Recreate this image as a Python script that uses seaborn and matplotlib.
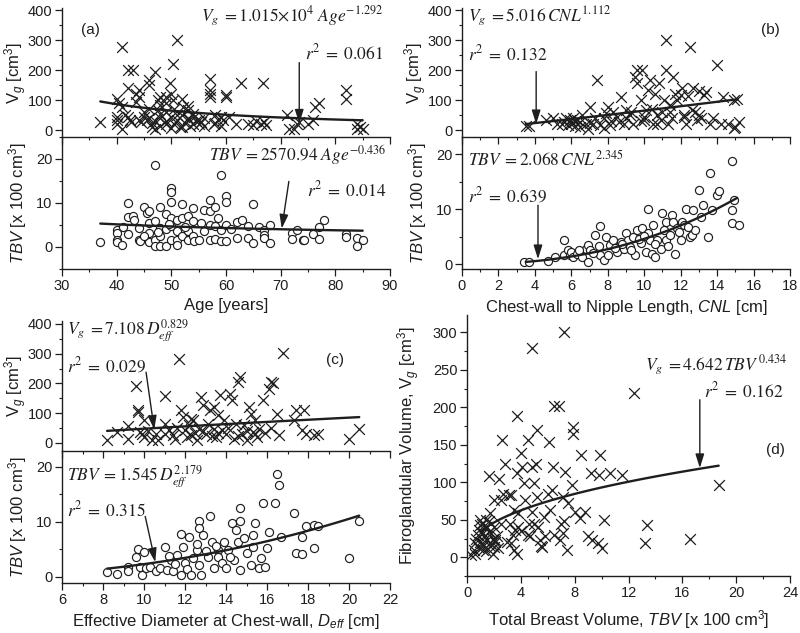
import numpy as np
import matplotlib
matplotlib.use('Agg')
import matplotlib.pyplot as plt
from matplotlib.ticker import MultipleLocator
import seaborn as sns

# --- data ---
# (a) Age vs Vg [cm3]
age_vg = [(37, 28), (40, 105), (40, 44), (40, 33), (40, 22), (40.5, 90), (41, 278), (41, 5), (41, 78),
          (41.5, 50), (42, 139), (42, 200), (43, 200), (42, 44), (42.7, 28), (42.5, 35), (43.5, 120),
          (43.5, 95), (44, 33), (44, 111), (44, 133), (44.5, 28), (45, 45), (45.5, 33), (45, 60),
          (46, 167), (46, 150), (46.5, 11), (47, 5), (46.5, 25), (47, 194), (47.5, 67), (47.5, 100),
          (48, 85), (48, 40), (48, 15), (49, 111), (49, 60), (49, 30), (49.7, 156), (50, 44), (50.3, 100),
          (50.3, 222), (51, 300), (50.5, 20), (50.5, 70), (51, 35), (51.5, 10), (52, 105), (52.2, 78),
          (52, 50), (52.5, 25), (53, 67), (53.3, 33), (53.5, 15), (54.2, 44), (54, 55), (54.5, 30),
          (55, 22), (55.5, 28), (56, 40), (57, 172), (57, 133), (57, 111), (57, 120), (57.8, 22),
          (58, 50), (58.5, 35), (59.4, 33), (59, 15), (60, 111), (60, 117), (60.5, 45), (61.8, 22),
          (62.8, 156), (64, 22), (65, 17), (65.5, 30), (66.4, 22), (66.7, 156), (67, 28), (67.3, 17),
          (71.2, 50), (71.5, 5), (72.4, 5), (73, 22), (73.3, 28), (75, 22), (76, 33), (76.2, 78),
          (77, 89), (82, 133), (82, 105), (84, 22), (84, 5), (84.5, 12), (85, 5),
          (46, 40), (47, 30), (48, 55), (49, 20), (50, 8), (51, 50), (52, 12), (53, 40), (54, 20),
          (56, 15), (58, 25), (59, 45), (46, 70), (48, 110), (49, 90), (50, 120), (53, 80), (55, 35)]

# (a) Age vs TBV [x100 cm3]
age_tbv = [(37, 1.1), (40, 3.9), (40, 3.2), (40, 1.7), (40, 1.1), (41, 0.5), (41.1, 4.5), (42, 10),
           (42, 6.8), (42, 3), (43, 7.1), (43.1, 6.2), (44, 4.3), (44, 1.7), (44.2, 1.3), (45, 9.1),
           (45.5, 7.7), (46, 8.1), (46, 5.5), (46, 3.2), (46, 1.2), (47, 18.7), (47, 5.8), (47, 1.7),
           (47, 0.3), (48, 9.1), (48, 4.3), (48, 2.4), (48, 0.3), (49, 7.6), (49, 4.1), (49, 0.3),
           (50, 13.4), (50, 12.6), (50, 10.2), (50, 6.6), (50, 4.7), (50, 1.7), (51, 6.2), (51, 3.6),
           (51, 1.7), (51, 0.5), (52, 9.8), (52, 6.6), (52, 2.4), (53, 7.1), (53, 3.6), (53, 1.7),
           (54, 8.9), (54, 5.8), (54, 2.4), (54.1, 1.3), (55, 1.7), (56, 8.3), (56, 3.6), (57, 10.6),
           (57, 8.1), (57, 5.1), (57, 1.7), (58, 9.2), (58, 4.7), (58, 1.9), (59, 16.4), (59, 3.9),
           (59, 1.3), (60, 11.5), (60, 10.2), (60, 5.1), (60, 1.3), (62, 5.6), (62, 2), (63, 6.2),
           (64, 4.7), (64, 2), (65, 9.8), (65, 0.9), (66, 4.5), (67, 3.9), (67, 2.8), (67, 2),
           (68, 5.1), (68, 0.9), (72, 3.2), (72, 1.9), (73, 3.9), (74, 1.5), (74.2, 1.7), (76, 3),
           (77, 1.8), (77, 4.5), (78, 6.2), (82, 3), (82, 2.3), (84, 2), (84, 0.3), (85, 1.5),
           (45, 2.5), (47.5, 3.5), (49.5, 5.3), (52.5, 4.5), (55.5, 5.5), (58.5, 6.5), (61, 4.2)]

# (b) CNL vs Vg
cnl_vg = [(3.5, 13), (3.7, 13), (4.6, 33), (5, 39), (5.2, 22), (5.6, 28), (5.7, 39), (5.8, 17),
          (5.9, 33), (6, 22), (6.1, 39), (6.2, 15), (6.3, 33), (6.5, 28), (6.6, 50), (6.8, 22),
          (6.9, 5), (7, 78), (7.4, 167), (7.2, 22), (7.6, 17), (7.8, 39), (7.9, 56), (8, 78),
          (8.1, 17), (8.3, 61), (8.6, 28), (8.7, 111), (8.9, 22), (9, 67), (9.2, 50), (9.4, 22),
          (9.5, 178), (9.6, 156), (9.6, 200), (9.8, 100), (9.9, 200), (10, 33), (10.1, 67),
          (10.2, 133), (10.3, 167), (10.5, 22), (10.6, 122), (10.7, 50), (10.8, 156), (10.9, 33),
          (11.1, 100), (11.2, 300), (11.2, 200), (11.3, 22), (11.4, 61), (11.6, 178), (11.7, 122),
          (11.8, 100), (12, 117), (12.1, 139), (12.2, 44), (12.3, 22), (12.5, 278), (12.6, 67),
          (12.7, 139), (12.9, 33), (13, 50), (13.3, 117), (13.4, 128), (13.6, 22), (14, 217),
          (14.2, 22), (14.9, 100), (15, 11), (15.1, 105), (15.2, 28), (14.9, 6),
          (5.5, 20), (6.2, 30), (6.5, 12), (7, 25), (7.3, 40), (7.8, 8), (8.2, 30), (8.5, 45),
          (9, 40), (9.8, 30), (10, 45), (10.7, 20), (11, 60), (11.5, 40), (12.2, 50), (12.8, 60),
          (13.1, 40), (13.8, 40), (14.3, 110), (14.6, 20), (12.4, 115), (13, 130), (11.4, 85),
          (10.4, 70), (9.3, 60)]

# (b) CNL vs TBV
cnl_tbv = [(3.4, 0.4), (3.7, 0.4), (4.7, 0.6), (5.1, 1.2), (5.6, 4.4), (5.6, 1.6), (5.8, 2.5),
           (5.9, 1.6), (6, 2.2), (6.1, 1.2), (6.3, 1.9), (6.6, 1.3), (6.8, 2.8), (6.9, 0.4),
           (6.9, 3.5), (7, 2.5), (7.3, 5.3), (7.6, 6.9), (7.5, 3.2), (7.6, 1.6), (7.8, 0.7),
           (7.9, 5), (8, 1.6), (8.1, 3.5), (8.3, 4.4), (8.5, 2.2), (8.7, 4.1), (8.9, 2.8), (9, 5.6),
           (9.1, 4.4), (9.2, 3.1), (9.4, 5), (9.5, 1.6), (9.6, 6.2), (9.8, 3.8), (9.9, 6.5),
           (10.1, 2.2), (10.2, 10.1), (10.2, 5.6), (10.3, 4.4), (10.4, 1.9), (10.5, 7.1), (10.6, 1.3),
           (10.7, 4.4), (10.9, 2.8), (11, 9.2), (11.1, 6.2), (11.2, 7.7), (11.2, 4.4), (11.4, 5.3),
           (11.5, 8.9), (11.6, 7.7), (11.7, 1.9), (11.8, 6.5), (12, 4.4), (12.1, 7.7), (12.2, 7.1),
           (12.3, 10.1), (12.5, 5), (12.6, 5.3), (12.7, 9.8), (12.8, 6.2), (13, 13.5), (13.1, 8.6),
           (13.2, 10.7), (13.5, 5), (13.6, 16.5), (13.7, 9.8), (14, 12.5), (14.1, 13.2), (14.8, 18.8),
           (14.8, 9.8), (14.8, 7.4), (14.9, 11.6), (15.2, 7.1),
           (6.4, 2.6), (7.2, 2), (8.4, 3), (9.3, 2.5), (9.7, 4.6), (10.6, 3.6), (11.3, 3.3),
           (11.9, 5.8), (12.4, 6.8), (8.8, 3.6), (10, 5.1)]

# (c) Deff vs Vg
deff_vg = [(8.2, 11), (8.7, 37), (9.2, 56), (9.2, 15), (9.6, 191), (9.7, 112), (9.7, 104), (9.8, 37),
           (9.9, 29), (10, 20), (10, 76), (10.4, 9), (10.6, 31), (10.7, 9), (11, 157), (11, 65),
           (11.2, 43), (11.4, 26), (11.5, 15), (11.7, 281), (11.8, 110), (11.9, 88), (12, 43),
           (12.2, 60), (12.3, 26), (12.4, 76), (12.6, 9), (12.7, 48), (12.8, 153), (12.9, 127),
           (13, 31), (13.1, 65), (13.2, 110), (13.4, 121), (13.4, 48), (13.5, 20), (13.7, 161),
           (13.8, 43), (13.9, 76), (14, 31), (14.2, 166), (14.3, 144), (14.4, 15), (14.5, 65),
           (14.6, 206), (14.7, 222), (14.8, 31), (15, 9), (15.1, 121), (15.2, 99), (15.3, 37),
           (15.4, 76), (15.5, 20), (15.6, 48), (15.8, 144), (16.1, 183), (16.2, 206), (16.3, 200),
           (16.5, 99), (16.6, 26), (16.8, 301), (17.3, 76), (17.4, 110), (17.7, 43), (17.8, 110),
           (17.9, 31), (18.3, 26), (18.5, 31), (20, 15), (20.5, 48),
           (10.2, 40), (11, 30), (11.6, 50), (12.1, 20), (12.5, 35), (12.9, 40), (13.3, 25),
           (13.6, 35), (14.1, 50), (14.6, 25), (15, 40), (15.4, 30), (15.9, 35), (16.2, 50),
           (12.3, 80), (13.6, 95), (14.9, 60)]

# (c) Deff vs TBV
deff_tbv = [(8.2, 0.9), (8.7, 0.6), (9.2, 1.8), (9.2, 1), (9.6, 3.7), (9.7, 5.1), (9.8, 1.9),
            (9.9, 0.4), (10, 4.6), (10.1, 1.6), (10.3, 1.9), (10.6, 1), (10.8, 1.6), (11, 5.5),
            (11.1, 1.3), (11.3, 3.1), (11.4, 1), (11.6, 4), (11.8, 0.4), (11.8, 7.8), (11.9, 5.5),
            (12, 2.5), (12.1, 1.4), (12.2, 7.2), (12.3, 0.4), (12.6, 4.9), (12.7, 10.1), (12.7, 8.9),
            (12.7, 2.2), (12.8, 0.4), (12.9, 7.6), (13.1, 3.7), (13.2, 11), (13.3, 6.4), (13.4, 1.6),
            (13.6, 4.9), (13.6, 3.7), (13.8, 2.5), (13.9, 6.4), (14, 1.6), (14.1, 4.9), (14.3, 9.8),
            (14.4, 3.1), (14.5, 8.6), (14.6, 6.4), (14.7, 12.5), (14.7, 10.1), (14.7, 1.3),
            (14.9, 7), (15, 4.3), (15.2, 2.2), (15.3, 5.5), (15.3, 7.6), (15.4, 9.8), (15.6, 1.6),
            (15.7, 3.4), (15.8, 13.5), (15.9, 1.9), (16, 5.2), (16.1, 8.1), (16.4, 13.5),
            (16.5, 18.7), (16.6, 16.7), (16.7, 7.3), (17.3, 11.6), (17.4, 4.3), (17.7, 7.3),
            (17.7, 4.2), (17.9, 9.2), (18.3, 9.5), (18.3, 5.2), (18.5, 9.2), (20, 3.4), (20.5, 10.2),
            (11.5, 2.4), (12.4, 3.4), (13, 4.8), (13.5, 5.7), (14.2, 3.6), (12.6, 6), (11.2, 3.8)]

# (d) TBV [x100 cm3] vs Vg
tbv_vg = [(0.3, 3), (0.5, 10), (0.6, 19), (0.7, 25), (0.9, 36), (1, 43), (1.1, 19), (1.2, 32),
          (1.4, 41), (1.5, 23), (1.6, 34), (1.7, 19), (1.2, 10), (1.9, 5), (2, 14), (2.1, 23),
          (2.2, 28), (1.7, 59), (1.6, 108), (2.4, 105), (2, 76), (1.4, 50), (1, 50), (2.5, 76),
          (2.6, 156), (2.8, 125), (2.7, 85), (3.1, 83), (3.2, 45), (3.3, 19), (3.5, 10), (3.3, 83),
          (3.5, 63), (3.6, 36), (3.7, 188), (3.7, 112), (3.8, 59), (3.7, 5), (4, 139), (4.1, 121),
          (4.2, 99), (4.3, 76), (4.5, 156), (4.6, 45), (4.7, 28), (4.8, 279), (4.8, 121), (5, 99),
          (5.1, 125), (5.2, 170), (5.2, 81), (5.3, 41), (5.4, 23), (5.6, 14), (5.7, 54), (5.8, 28),
          (6.1, 154), (6.2, 63), (6.3, 90), (6.4, 121), (6.5, 202), (6.8, 202), (6.9, 23), (7.1, 81),
          (7.1, 32), (7.2, 48), (7.2, 301), (7.3, 114), (7.4, 10), (7.5, 72), (7.8, 96), (7.9, 165),
          (7.9, 174), (8, 61), (8.4, 52), (8.5, 136), (8.8, 61), (9, 28), (9.2, 112), (9.3, 23),
          (9.7, 19), (9.8, 110), (9.9, 136), (10, 12), (10.2, 50), (10.6, 112), (11.5, 110),
          (12.4, 219), (13.2, 19), (13.4, 43), (16.6, 25), (18.7, 96),
          (0.8, 30), (1, 20), (1.1, 45), (1.3, 28), (1.5, 40), (1.7, 15), (1.8, 33), (2, 40),
          (2.1, 20), (1.2, 15), (0.6, 5), (1.6, 48), (2.3, 12), (1.9, 25), (1.4, 8), (0.9, 12),
          (2.5, 45), (3.4, 30), (3, 20), (4.5, 30), (4, 35), (5, 45), (4.8, 60), (3.8, 40),
          (6.5, 30), (7, 45), (6, 85), (5.5, 15)]

# power-law fits printed on the figure: coefficient, exponent, x range, y scale
fit_a_vg = (1.015e4, -1.292, 37, 85, 1.0)
fit_a_tbv = (2570.94, -0.436, 37, 85, 0.01)
fit_b_vg = (5.016, 1.112, 3.5, 15.1, 1.0)
fit_b_tbv = (2.068, 2.345, 3.5, 15.1, 0.01)
fit_c_vg = (7.108, 0.829, 8.2, 20.5, 1.0)
fit_c_tbv = (1.545, 2.179, 8.2, 20.5, 0.01)
fit_d = (4.642, 0.434, 1.0, 18.7, 100.0)   # x given in x100 cm3

INK = '#1e1e1e'

sns.set_theme(style='ticks')
plt.rcParams['font.family'] = ['Liberation Sans', 'DejaVu Sans']
plt.rcParams['mathtext.fontset'] = 'custom'
plt.rcParams['mathtext.rm'] = 'Liberation Sans'
plt.rcParams['mathtext.it'] = 'Liberation Sans:italic'
plt.rcParams['mathtext.bf'] = 'Liberation Sans:bold'
plt.rcParams['text.color'] = INK
plt.rcParams['axes.labelcolor'] = INK

fig = plt.figure(figsize=(8, 6.33), dpi=100)
W, H = 800, 633


def add_ax(x0, x1, ytop, ybot):
    ax = fig.add_axes([x0 / W, 1 - ybot / H, (x1 - x0) / W, (ybot - ytop) / H])
    ax.set_facecolor('none')
    return ax


def style(ax, xlim, ylim, xmaj, xmin, ymaj, ymin, xlabels=True):
    ax.set_xlim(*xlim)
    ax.set_ylim(*ylim)
    ax.xaxis.set_major_locator(MultipleLocator(xmaj))
    ax.xaxis.set_minor_locator(MultipleLocator(xmin))
    ax.yaxis.set_major_locator(MultipleLocator(ymaj))
    ax.yaxis.set_minor_locator(MultipleLocator(ymin))
    for s in ['top', 'right']:
        ax.spines[s].set_visible(False)
    for s in ['left', 'bottom']:
        ax.spines[s].set_linewidth(1.0)
        ax.spines[s].set_color(INK)
    ax.tick_params(which='major', direction='out', length=5, width=0.9, color=INK,
                   labelsize=10.5, labelcolor=INK, pad=2)
    ax.tick_params(which='minor', direction='out', length=2.5, width=0.8, color=INK)
    if not xlabels:
        ax.tick_params(axis='x', labelbottom=False)
    ax.set_xlabel('')
    ax.set_ylabel('')


def crosses(ax, pts):
    x, y = zip(*pts)
    sns.scatterplot(x=list(x), y=list(y), marker='x', s=60, color=INK, linewidth=0.9,
                    ax=ax, legend=False, zorder=3)


def circles(ax, pts):
    x, y = zip(*pts)
    sns.scatterplot(x=list(x), y=list(y), marker='o', s=34, color='white', edgecolor=INK,
                    linewidth=0.85, ax=ax, legend=False, zorder=3)


def fit_line(ax, fit, xscale=1.0):
    a, b, x0, x1, sc = fit
    xs = np.linspace(x0, x1, 60)
    if xscale != 1.0:
        ys = a * (xs * xscale) ** b
    else:
        ys = a * xs ** b * sc
    sns.lineplot(x=xs, y=ys, color=INK, linewidth=1.7, ax=ax, zorder=4)


def note(ax, x, y, s, ha='left', size=12.5):
    ax.text(x, y, s, ha=ha, va='center', fontsize=size, math_fontfamily='stix', color=INK)


def arrow(ax, tail, tip):
    ax.annotate('', xy=tip, xytext=tail,
                arrowprops=dict(arrowstyle='-|>,head_length=0.7,head_width=0.22',
                                color=INK, lw=1.0, shrinkA=0, shrinkB=0), zorder=5)


# ---------- (a) ----------
a1 = add_ax(62, 390, 8, 137)
a2 = add_ax(62, 390, 137, 269)
crosses(a1, age_vg)
fit_line(a1, fit_a_vg)
circles(a2, age_tbv)
fit_line(a2, fit_a_tbv)
style(a1, (30, 90), (-23, 407), 10, 5, 100, 50, xlabels=False)
style(a2, (30, 90), (-5, 25), 10, 5, 10, 5)
a1.text(35.2, 333, '(a)', fontsize=11, ha='center', va='center')
note(a1, 88.8, 380, r'$V_g\;=1.015{\times}10^4\ Age^{-1.292}$', ha='right')
note(a1, 88.8, 260, r'$r^2\;=\;0.061$', ha='right')
arrow(a1, (73.4, 225), (73.4, 22))
note(a2, 89.4, 20.8, r'$TBV\;=2570.94\ Age^{-0.436}$', ha='right')
note(a2, 89.4, 13, r'$r^2\;=\;0.014$', ha='right')
arrow(a2, (71.5, 14.9), (70.2, 4.2))
a1.set_ylabel(r'V$_g$ [cm$^3$]', fontsize=12)
a2.set_ylabel(r'$TBV$ [x 100 cm$^3$]', fontsize=12)
a2.set_xlabel('Age [years]', fontsize=12, labelpad=4)

# ---------- (b) ----------
b1 = add_ax(462, 790, 8, 137)
b2 = add_ax(462, 790, 137, 269)
crosses(b1, cnl_vg)
fit_line(b1, fit_b_vg)
circles(b2, cnl_tbv)
fit_line(b2, fit_b_tbv)
style(b1, (0, 18), (-23, 407), 2, 1, 100, 50, xlabels=False)
style(b2, (0, 18), (-0.9, 23.1), 2, 1, 10, 5)
b1.text(16.9, 333, '(b)', fontsize=11, ha='center', va='center')
note(b1, 0.35, 380, r'$V_g\;=5.016\,CNL^{1.112}$')
note(b1, 0.35, 255, r'$r^2\;=\;0.132$')
arrow(b1, (4.07, 195), (4.07, 20))
note(b2, 0.35, 19.2, r'$TBV\;=2.068\,CNL^{2.345}$')
note(b2, 0.35, 12.6, r'$r^2\;=\;0.639$')
arrow(b2, (4.17, 10.7), (4.17, 0.9))
b1.set_ylabel(r'V$_g$ [cm$^3$]', fontsize=12)
b2.set_ylabel(r'$TBV$ [x 100 cm$^3$]', fontsize=12)
b2.set_xlabel(r'Chest-wall to Nipple Length, $CNL$ [cm]', fontsize=12, labelpad=4)

# ---------- (c) ----------
c1 = add_ax(62, 390, 321, 451)
c2 = add_ax(62, 390, 451, 583)
crosses(c1, deff_vg)
fit_line(c1, fit_c_vg)
circles(c2, deff_tbv)
fit_line(c2, fit_c_tbv)
style(c1, (6, 22), (-27, 410), 2, 1, 100, 50, xlabels=False)
style(c2, (6, 22), (-1.1, 22.9), 2, 1, 10, 5)
c1.text(19.3, 279, '(c)', fontsize=11, ha='center', va='center')
note(c1, 6.25, 378, r'$V_g\;=7.108\,D_{eff}^{0.829}$')
note(c1, 6.25, 262, r'$r^2\;=\;0.029$')
arrow(c1, (10.1, 238), (10.5, 45))
note(c2, 6.25, 18.2, r'$TBV\;=1.545\,D_{eff}^{2.179}$')
note(c2, 6.25, 12.2, r'$r^2\;=\;0.315$')
arrow(c2, (10.06, 11.0), (10.55, 2.7))
c1.set_ylabel(r'V$_g$ [cm$^3$]', fontsize=12)
c2.set_ylabel(r'$TBV$ [x 100 cm$^3$]', fontsize=12)
c2.set_xlabel(r'Effective Diameter at Chest-wall, $D_{eff}$ [cm]', fontsize=12, labelpad=4)

# ---------- (d) ----------
d = add_ax(467, 790, 315, 576)
crosses(d, tbv_vg)
fit_line(d, fit_d, xscale=100.0)
style(d, (0, 24), (-25, 323), 4, 2, 50, 25)
d.text(22.9, 143, '(d)', fontsize=11, ha='center', va='center')
note(d, 23.8, 256, r'$V_g\;=4.642\,TBV^{\,0.434}$', ha='right')
note(d, 23.5, 222, r'$r^2\;=\;0.162$', ha='right')
arrow(d, (17.3, 210), (17.3, 119))
d.set_ylabel(r'Fibroglandular Volume, V$_g$ [cm$^3$]', fontsize=12)
d.set_xlabel(r'Total Breast Volume, $TBV$ [x 100 cm$^3$]', fontsize=12, labelpad=6)

for ax in [a1, a2, b1, b2, c1, c2]:
    ax.yaxis.set_label_coords(-0.102, 0.5)
d.yaxis.set_label_coords(-0.14, 0.5)

fig.savefig('out.png', dpi=100)
